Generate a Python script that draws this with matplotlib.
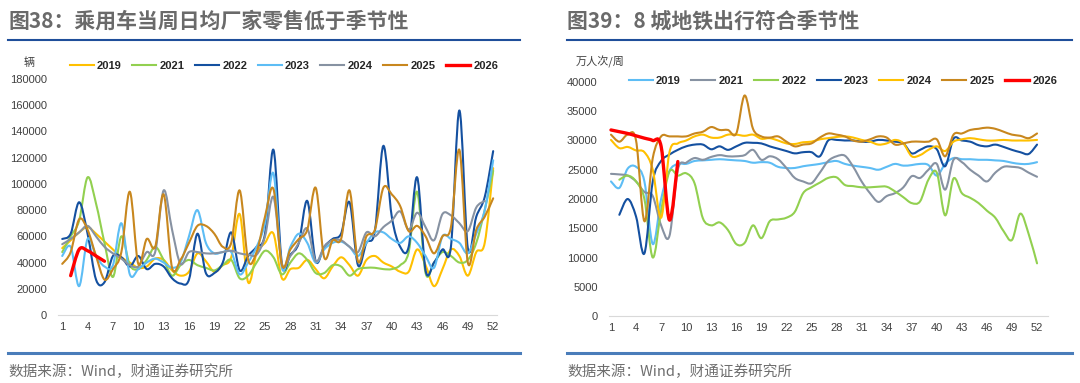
import matplotlib
matplotlib.use("Agg")
import matplotlib.pyplot as plt
import numpy as np
from matplotlib.path import Path
from matplotlib.patches import PathPatch
from matplotlib.lines import Line2D

plt.rcParams['font.family'] = ['Liberation Sans', 'Noto Sans CJK SC', 'DejaVu Sans']

W, H = 1080, 383
weeks = np.arange(1, 53)
week_ticks = list(range(1, 53, 3))

# ---- 图38 乘用车当周日均厂家零售 (辆) ----
car_2019 = [51000, 57000, 63000, 67000, 62000, 56000, 50000, 44000, 40000, 36000,
            37000, 43000, 42000, 34000, 30000, 33000, 47000, 41000, 33000, 38000,
            44000, 77000, 25000, 47000, 55000, 62000, 28000, 35000, 36000, 42000,
            35000, 28000, 37000, 44000, 38000, 30000, 42000, 45000, 40000, 37000,
            33000, 33000, 50000, 38000, 22000, 35000, 50000, 45000, 30000, 48000,
            55000, 112000]
car_2021 = [48000, 60000, 72000, 105000, 85000, 55000, 29000, 60000, 38000, 35000,
            42000, 52000, 42000, 30000, 38000, 42000, 38000, 36000, 34000, 38000,
            42000, 28000, 30000, 40000, 49000, 44000, 31000, 40000, 47000, 42000,
            32000, 32000, 38000, 37000, 30000, 35000, 36000, 36000, 35000, 35000,
            38000, 48000, 94000, 32000, 40000, 48000, 45000, 40000, 42000, 55000,
            80000, 110000]
car_2022 = [58000, 62000, 86000, 62000, 27000, 25000, 45000, 44000, 37000, 45000,
            35000, 39000, 37000, 28000, 24000, 27000, 62000, 32000, 32000, 40000,
            63000, 34000, 45000, 52000, 62000, 126000, 39000, 46000, 55000, 87000,
            41000, 52000, 58000, 62000, 86000, 38000, 55000, 64000, 129000, 75000,
            52000, 52000, 105000, 34000, 40000, 50000, 52000, 156000, 51000, 75000,
            90000, 125000]
car_2023 = [45000, 52000, 22000, 58000, 45000, 37000, 38000, 70000, 31000, 35000,
            40000, 43000, 40000, 36000, 40000, 60000, 80000, 55000, 47000, 48000,
            48000, 31000, 40000, 52000, 70000, 108000, 36000, 52000, 62000, 55000,
            40000, 50000, 55000, 56000, 52000, 45000, 55000, 63000, 63000, 58000,
            55000, 60000, 55000, 45000, 36000, 60000, 58000, 55000, 47000, 62000,
            80000, 118000]
car_2024 = [54000, 58000, 63000, 68000, 60000, 52000, 47000, 43000, 38000, 37000,
            48000, 48000, 95000, 65000, 39000, 48000, 48000, 47000, 47000, 48000,
            49000, 47000, 46000, 46000, 60000, 90000, 39000, 45000, 55000, 66000,
            41000, 52000, 57000, 57000, 52000, 48000, 63000, 60000, 67000, 72000,
            79000, 65000, 78000, 67000, 57000, 77000, 76000, 70000, 64000, 82000,
            87000, None]
car_2025 = [39000, 48000, 73000, 65000, 45000, 27000, 35000, 48000, 94000, 39000,
            58000, 52000, 92000, 36000, 42000, 55000, 68000, 68000, 62000, 52000,
            55000, 95000, 42000, 48000, 75000, 96000, 38000, 50000, 58000, 65000,
            97000, 44000, 57000, 58000, 95000, 41000, 60000, 65000, 97000, 92000,
            83000, 64000, 68000, 60000, 47000, 60000, 67000, 126000, 40000, 65000,
            75000, 89000]
car_2026 = [None, 30000, 50000, 49000, 45000, 41000]

# ---- 图39 8城地铁出行 (万人次/周) ----
metro_2019 = [23000, 21900, 25200, 25500, 23000, 12300, 20000, 24800, 26000, 26000,
              26500, 26600, 26700, 26800, 26700, 26600, 26500, 26200, 26300, 26200,
              25500, 25300, 25300, 25600, 25800, 26000, 26300, 26500, 26000, 25700,
              25500, 25300, 25000, 25500, 26000, 25700, 25800, 26000, 25800, 24000,
              26000, 27000, 26800, 26800, 26700, 26700, 26600, 26500, 26200, 26000,
              26000, 26300]
metro_2021 = [24300, 24200, 24000, 23000, 21200, 20500, 15500, 13700, 25000, 26200,
              27000, 26700, 27200, 27500, 27300, 27300, 27500, 28400, 26700, 27300,
              26800, 25300, 23600, 23000, 22700, 24500, 26500, 27300, 27400, 25500,
              23000, 21000, 19500, 20500, 21000, 22000, 23900, 23600, 25000, 26000,
              21600, 26700, 26300, 25000, 24000, 23000, 24500, 25500, 25500, 25300,
              24500, 23800]
metro_2022 = [None, 23300, 24000, 23000, 20000, 10000, 18000, 24700, 24000, 24400,
              22700, 16700, 15500, 16000, 14700, 12300, 12500, 15500, 13300, 16200,
              16500, 16800, 17800, 21000, 22000, 22800, 23600, 23700, 22400, 22200,
              22000, 22000, 22100, 22100, 21300, 20300, 19300, 19600, 23300, 24500,
              17200, 23500, 21000, 20200, 19300, 18000, 16800, 14500, 13000, 17500,
              14000, 9000]
metro_2023 = [None, 17300, 20000, 17000, 10700, 23000, 26500, 27600, 28400, 29000,
              29300, 29300, 28500, 29000, 28400, 29000, 29600, 29600, 29500, 29000,
              28600, 28200, 27800, 28000, 28000, 27300, 30000, 30100, 30000, 30000,
              29800, 29800, 30100, 30000, 29800, 29500, 27800, 28400, 29000, 28500,
              25600, 30300, 30000, 29800, 29200, 29000, 29300, 28900, 28400, 28000,
              27700, 29300]
metro_2024 = [30100, 28700, 28900, 28300, 28000, 25000, 16800, 28000, 29500, 30000,
              30700, 31000, 30500, 30500, 31000, 31000, 30800, 31000, 30300, 30400,
              30000, 29500, 29400, 29700, 29800, 30200, 30400, 30600, 30700, 30500,
              30100, 29800, 29300, 29500, 30100, 29500, 27300, 27500, 28400, 29000,
              28200, 29800, 30200, 30400, 30200, 30000, 30000, 30100, 30000, 30000,
              30000, 30100]
metro_2025 = [31000, 29800, 31000, 30000, 16200, 27000, 30700, 30700, 30700, 30700,
              31200, 31500, 32300, 31800, 31800, 31200, 37700, 32000, 30700, 30500,
              30700, 29800, 29000, 29300, 29500, 30500, 31200, 31000, 30700, 30000,
              29800, 30200, 30700, 30500, 29300, 29500, 29800, 29800, 29800, 30200,
              27300, 31000, 31200, 31800, 32000, 32200, 32000, 31500, 31000, 30800,
              30400, 31200]
metro_2026 = [31800, 31500, 31200, 30800, 30400, 30000, 29000, 16400, 26400]

YELLOW = '#FFC000'
GREEN = '#92D050'
DARK = '#1450A0'
LIGHT = '#5DBDF5'
GRAY = '#8792A2'
ORANGE = '#C8871E'
RED = '#FF0000'


def px(x, y):
    return x / W, 1 - y / H


def smooth(ax, values, color, lw):
    # Excel-style smoothed line (cubic Bezier through the data points)
    pts = [(w, v) for w, v in zip(weeks, values) if v is not None]
    pts = np.array(pts, dtype=float)
    verts = [pts[0]]
    codes = [Path.MOVETO]
    n = len(pts)
    for i in range(n - 1):
        p0 = pts[i - 1] if i > 0 else pts[i]
        p1, p2 = pts[i], pts[i + 1]
        p3 = pts[i + 2] if i + 2 < n else p2
        verts += [p1 + (p2 - p0) / 6, p2 - (p3 - p1) / 6, p2]
        codes += [Path.CURVE4] * 3
    ax.add_patch(PathPatch(Path(verts, codes), fill=False, edgecolor=color,
                           lw=lw, capstyle='round', joinstyle='round'))


def style_axes(ax, xlim, ylim, yticks):
    ax.set_xlim(*xlim)
    ax.set_ylim(*ylim)
    ax.set_xticks(week_ticks)
    ax.set_yticks(yticks)
    ax.set_yticklabels([str(t) for t in yticks])
    for s in ['top', 'right', 'left']:
        ax.spines[s].set_visible(False)
    ax.spines['bottom'].set_color('#D9D9D9')
    ax.tick_params(length=0, labelsize=8, colors='#404040')
    ax.tick_params(axis='y', pad=8)
    ax.tick_params(axis='x', pad=5)
    ax.patch.set_alpha(0)


fig = plt.figure(figsize=(W / 100, H / 100), dpi=100)

# ---------------- left chart ----------------
axL = fig.add_axes([58 / W, (H - 315) / H, 439.4 / W, 236 / H])
style_axes(axL, (0.5, 52.5), (0, 180000), list(range(0, 180001, 20000)))
left_series = [('2019', car_2019, YELLOW, 1.5), ('2021', car_2021, GREEN, 1.5),
               ('2022', car_2022, DARK, 1.5), ('2023', car_2023, LIGHT, 1.5),
               ('2024', car_2024, GRAY, 1.5), ('2025', car_2025, ORANGE, 1.5),
               ('2026', car_2026, RED, 2.4)]
for name, vals, c, lw in left_series:
    smooth(axL, vals, c, lw)

# ---------------- right chart ----------------
axR = fig.add_axes([608.9 / W, (H - 316) / H, 439 / W, 234 / H])
style_axes(axR, (0.75, 53.3), (0, 40000), list(range(0, 40001, 5000)))
right_series = [('2019', metro_2019, LIGHT, 1.5), ('2021', metro_2021, GRAY, 1.5),
                ('2022', metro_2022, GREEN, 1.5), ('2023', metro_2023, DARK, 1.5),
                ('2024', metro_2024, YELLOW, 1.5), ('2025', metro_2025, ORANGE, 1.5),
                ('2026', metro_2026, RED, 2.4)]
for name, vals, c, lw in right_series:
    smooth(axR, vals, c, lw)

# legends
for series, (cx, cy) in [(left_series, (284, 66)), (right_series, (843, 81))]:
    handles = [Line2D([], [], color=c, lw=lw) for _, _, c, lw in series]
    labels = [s[0] for s in series]
    fig.legend(handles, labels, loc='center', bbox_to_anchor=px(cx, cy), ncol=7,
               frameon=False, handlelength=2.15, handletextpad=0.3,
               columnspacing=0.95, borderpad=0, labelcolor='#262626',
               prop={'size': 8, 'weight': 'bold', 'family': ['Liberation Sans']})

# unit labels
fig.text(*px(24, 63), '辆', fontsize=8, color='#404040', va='center',
         family=['Noto Sans CJK SC'])
fig.text(*px(576, 62), '万人次/周', fontsize=8, color='#404040', va='center',
         family=['Noto Sans CJK SC'])

# titles, rules and sources
for x0, x1, title in [(8, 520, '图38：乘用车当周日均厂家零售低于季节性'),
                      (567, 1072, '图39：8 城地铁出行符合季节性')]:
    fig.text(*px(x0, 21), title, fontsize=15, color='#6A6A6A', weight='bold',
             va='center', family=['Noto Sans CJK SC'])
    fig.add_artist(Line2D([x0 / W, x1 / W], [1 - 40 / H] * 2, color='#1F4E9A', lw=1.5))
    fig.add_artist(Line2D([x0 / W, x1 / W], [1 - 353 / H] * 2, color='#4A7DBA', lw=2.2))
    fig.text(*px(x0, 372), '数据来源：Wind，财通证券研究所', fontsize=10.5,
             color='#6E6E6E', va='center', family=['Noto Sans CJK SC'])

fig.savefig('out.png', dpi=100)
